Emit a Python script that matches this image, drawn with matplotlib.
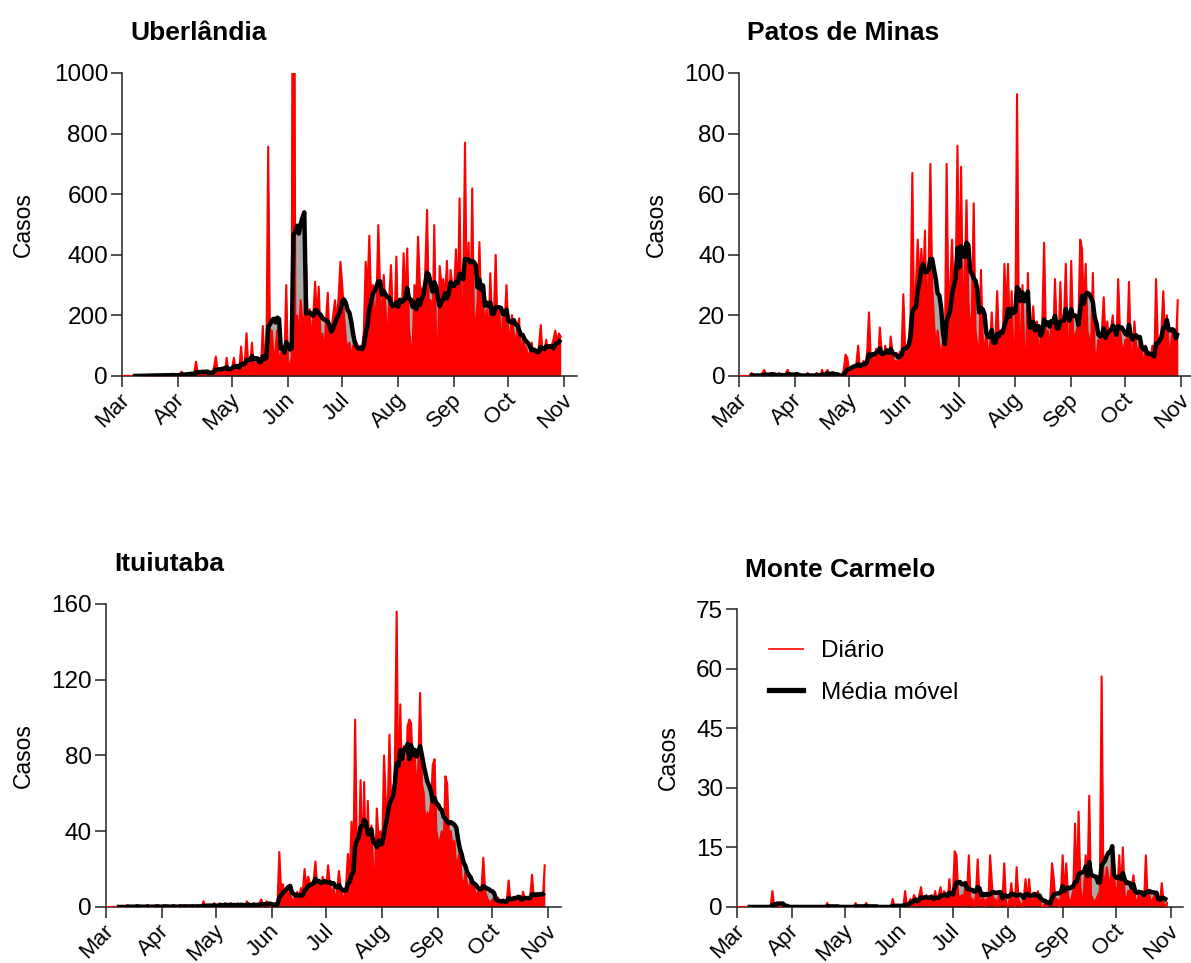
"""Daily COVID-19 cases with 7-day moving average for four cities (Minas Gerais)."""

import matplotlib

matplotlib.use("Agg")
import matplotlib.dates as mdates
import matplotlib.pyplot as plt
import matplotlib.transforms as mtransforms
import pandas as pd
from matplotlib.lines import Line2D

plt.rcParams["font.family"] = ["Liberation Sans", "DejaVu Sans"]

START = "2020-03-01"

# daily new cases, one value per day from Mar 1
uberlandia = [
    0, 0, 0, 0, 0, 0, 0, 0, 0, 1,
    0, 1, 2, 1, 0, 3, 2, 1, 2, 3,
    2, 1, 4, 3, 2, 1, 3, 5, 2, 3,
    2, 4, 3, 14, 5, 2, 8, 6, 10, 4,
    7, 47, 8, 5, 12, 10, 6, 12, 18, 9,
    8, 30, 64, 15, 8, 20, 25, 10, 60, 14,
    25, 25, 60, 18, 30, 22, 97, 15, 40, 141,
    25, 30, 110, 20, 45, 35, 60, 20, 165, 40,
    60, 757, 90, 150, 60, 80, 150, 30, 70, 100,
    50, 300, 20, 40, 60, 2700, 150, 200, 120, 250,
    180, 180, 366, 150, 220, 90, 200, 311, 180, 295,
    120, 140, 60, 180, 275, 100, 150, 200, 250, 180,
    260, 377, 300, 200, 120, 90, 110, 60, 100, 90,
    110, 70, 100, 90, 150, 377, 280, 463, 250, 300,
    150, 250, 498, 280, 150, 333, 220, 90, 250, 366,
    200, 180, 394, 120, 250, 200, 405, 240, 421, 150,
    100, 80, 300, 250, 460, 300, 280, 200, 350, 548,
    200, 250, 120, 498, 100, 80, 363, 300, 320, 250,
    380, 200, 350, 300, 280, 418, 220, 586, 180, 250,
    770, 250, 440, 150, 619, 150, 180, 250, 442, 200,
    250, 150, 220, 100, 339, 180, 200, 400, 150, 220,
    80, 200, 180, 300, 150, 120, 201, 140, 100, 160,
    190, 36, 120, 100, 90, 60, 80, 110, 50, 90,
    70, 100, 168, 60, 80, 120, 70, 90, 100, 120,
    150, 110, 140, 130,
]

patos_de_minas = [
    0, 0, 0, 0, 0, 0, 0, 1, 0, 0,
    0, 0, 0, 1, 2, 0, 0, 0, 1, 0,
    0, 0, 1, 0, 0, 0, 1, 2, 0, 0,
    0, 0, 1, 0, 0, 0, 0, 0, 1, 0,
    0, 0, 0, 1, 0, 0, 2, 0, 1, 2,
    0, 0, 1, 0, 0, 0, 0, 0, 2, 7,
    6, 1, 2, 3, 1, 4, 10, 2, 3, 5,
    2, 8, 21, 5, 6, 3, 9, 4, 16, 8,
    5, 10, 7, 3, 13, 8, 4, 5, 3, 8,
    7, 27, 9, 6, 12, 20, 67, 15, 30, 45,
    30, 42, 30, 48, 15, 35, 70, 30, 18, 8,
    15, 10, 5, 12, 6, 70, 20, 30, 45, 25,
    30, 76, 25, 69, 20, 30, 58, 25, 15, 20,
    57, 15, 10, 5, 35, 12, 8, 15, 5, 10,
    21, 6, 12, 28, 10, 15, 8, 37, 20, 37,
    10, 28, 5, 12, 93, 15, 10, 30, 8, 5,
    34, 10, 15, 23, 10, 18, 5, 12, 18, 44,
    12, 15, 8, 18, 10, 32, 15, 12, 31, 10,
    18, 37, 12, 8, 38, 15, 12, 15, 18, 45,
    42, 20, 37, 15, 12, 10, 34, 8, 5, 12,
    10, 15, 26, 12, 18, 10, 15, 20, 12, 8,
    32, 15, 10, 8, 12, 10, 31, 8, 5, 18,
    10, 6, 12, 8, 2, 10, 5, 8, 6, 10,
    4, 32, 10, 12, 15, 28, 12, 20, 10, 8,
    15, 12, 10, 25,
]

ituiutaba = [
    0, 0, 0, 0, 0, 0, 0, 0, 0, 0,
    0, 0, 1, 0, 0, 0, 0, 1, 0, 0,
    0, 0, 0, 1, 0, 0, 0, 0, 1, 0,
    0, 0, 1, 0, 0, 0, 0, 1, 0, 0,
    0, 1, 0, 0, 1, 0, 0, 0, 1, 0,
    0, 1, 0, 0, 3, 0, 1, 0, 1, 0,
    2, 0, 1, 2, 1, 0, 2, 1, 0, 2,
    1, 1, 0, 2, 1, 1, 1, 0, 3, 1,
    0, 1, 2, 0, 1, 2, 4, 0, 1, 3,
    1, 1, 0, 1, 2, 2, 29, 8, 12, 5,
    8, 10, 6, 4, 3, 6, 8, 5, 10, 8,
    20, 10, 16, 12, 8, 14, 24, 10, 12, 8,
    16, 12, 10, 22, 12, 6, 10, 4, 8, 19,
    10, 6, 3, 12, 28, 15, 45, 20, 99, 25,
    25, 67, 20, 66, 10, 56, 25, 43, 20, 15,
    52, 35, 40, 30, 80, 55, 50, 91, 50, 55,
    75, 156, 45, 107, 60, 85, 55, 95, 99, 97,
    70, 80, 60, 75, 113, 65, 60, 40, 50, 45,
    55, 75, 78, 40, 35, 35, 40, 30, 69, 65,
    35, 40, 30, 35, 20, 25, 30, 15, 10, 18,
    12, 8, 16, 12, 10, 5, 8, 6, 10, 26,
    8, 5, 3, 2, 4, 3, 2, 5, 3, 1,
    4, 2, 3, 14, 3, 2, 5, 3, 6, 4,
    3, 8, 4, 5, 3, 6, 17, 4, 5, 7,
    3, 6, 5, 22,
]

monte_carmelo = [
    0, 0, 0, 0, 0, 0, 0, 0, 0, 0,
    0, 0, 0, 0, 0, 0, 0, 0, 0, 0,
    4, 0, 1, 1, 0, 0, 0, 0, 0, 0,
    0, 0, 0, 0, 0, 0, 0, 0, 0, 0,
    0, 0, 0, 0, 0, 0, 0, 0, 0, 0,
    0, 1, 0, 0, 0, 0, 0, 0, 0, 0,
    0, 0, 0, 0, 0, 0, 0, 1, 0, 0,
    0, 0, 0, 1, 0, 0, 0, 0, 0, 0,
    0, 0, 0, 0, 0, 0, 0, 0, 2, 0,
    0, 0, 0, 0, 0, 4, 0, 1, 2, 1,
    3, 2, 1, 3, 5, 1, 2, 3, 1, 2,
    3, 2, 4, 1, 3, 5, 2, 4, 3, 1,
    7, 2, 3, 14, 13, 3, 2, 3, 2, 5,
    4, 13, 1, 2, 0, 3, 12, 2, 1, 3,
    0, 2, 1, 13, 6, 1, 2, 0, 3, 1,
    2, 11, 1, 0, 2, 6, 1, 0, 10, 2,
    1, 0, 2, 7, 1, 7, 2, 1, 3, 1,
    4, 2, 0, 0, 1, 0, 1, 2, 11, 7,
    1, 2, 0, 3, 13, 2, 11, 3, 1, 2,
    4, 21, 3, 24, 5, 2, 3, 13, 4, 28,
    3, 2, 1, 2, 3, 4, 58, 8, 6, 10,
    7, 4, 14, 8, 3, 5, 13, 2, 15, 3,
    1, 4, 4, 5, 8, 2, 1, 3, 2, 4,
    1, 13, 2, 3, 1, 2, 3, 1, 2, 1,
    6, 1, 0, 1,
]

cities = ["Uberlândia", "Patos de Minas", "Ituiutaba", "Monte Carmelo"]
series = [uberlandia, patos_de_minas, ituiutaba, monte_carmelo]
y_max = [1000, 100, 160, 75]
y_step = [200, 20, 40, 15]

RED = "#ff0000"
GRAY = "#a9a9a9"

# axes boxes in figure fractions, and y-label x position in axes fractions
boxes = [
    [0.1024, 0.6096, 0.3820, 0.3146],
    [0.6205, 0.6096, 0.3820, 0.3146],
    [0.0890, 0.0582, 0.3820, 0.3146],
    [0.6188, 0.0582, 0.3745, 0.3094],
]
label_x = [-0.192, -0.157, -0.157, -0.128]


def draw_panel(fig, ax, title, daily, ymax, step, lab_x):
    dates = pd.date_range(START, periods=len(daily), freq="D")
    s = pd.Series(daily, index=dates, dtype=float)
    ma = s.rolling(7).mean()

    ax.fill_between(dates, 0, ma.to_numpy(), color=GRAY, lw=0, zorder=1)
    ax.fill_between(dates, 0, s.to_numpy(), color=RED, lw=0, zorder=2)
    ax.plot(dates, s, color=RED, lw=1.5, zorder=3)
    ax.plot(dates, ma, color="black", lw=3.2, zorder=4, solid_capstyle="butt")

    ax.set_xlim(dates[0], dates[0] + pd.Timedelta(days=252))
    ax.set_ylim(0, ymax)
    ax.set_yticks(range(0, ymax + 1, step))
    ax.xaxis.set_major_locator(mdates.MonthLocator())
    ax.xaxis.set_major_formatter(mdates.DateFormatter("%b"))

    for side in ("top", "right"):
        ax.spines[side].set_visible(False)
    for side in ("left", "bottom"):
        ax.spines[side].set_linewidth(1.1)
        ax.spines[side].set_color("#222222")
    ax.tick_params(direction="out", length=8, width=1.1, color="#222222",
                   labelsize=17.5, pad=2)
    ax.tick_params(axis="x", labelsize=16, pad=1)
    shift = mtransforms.ScaledTranslation(-3 / 100, -1 / 100, fig.dpi_scale_trans)
    for lbl in ax.get_xticklabels():
        lbl.set_rotation(45)
        lbl.set_ha("right")
        lbl.set_rotation_mode("anchor")
        lbl.set_transform(lbl.get_transform() + shift)

    ax.set_ylabel("Casos", fontsize=16.5)
    ax.yaxis.set_label_coords(lab_x, 0.5)
    ax.text(0.018, 1.132, title, transform=ax.transAxes, fontsize=19,
            fontweight="bold", ha="left", va="center")


def main():
    fig = plt.figure(figsize=(11.91, 9.63), dpi=100)
    axes = []
    for i, title in enumerate(cities):
        ax = fig.add_axes(boxes[i])
        draw_panel(fig, ax, title, series[i], y_max[i], y_step[i], label_x[i])
        axes.append(ax)

    handles = [Line2D([], [], color=RED, lw=1.2),
               Line2D([], [], color="black", lw=3.8)]
    axes[3].legend(handles, ["Diário", "Média móvel"], loc="upper left",
                   bbox_to_anchor=(0.072, 0.895), frameon=False, fontsize=17.5,
                   handlelength=1.4, handletextpad=0.72, labelspacing=0.8,
                   borderaxespad=0, borderpad=0)

    fig.savefig("out.png", dpi=100)


if __name__ == "__main__":
    main()
